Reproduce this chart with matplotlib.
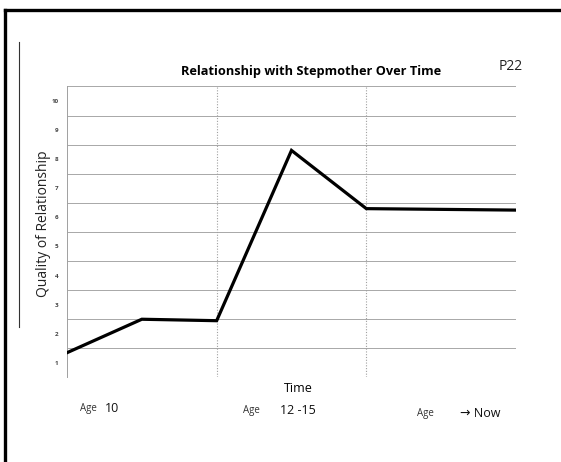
import matplotlib
matplotlib.use("Agg")
import matplotlib.pyplot as plt
from matplotlib.lines import Line2D

# values
time_pos = [0, 0.5, 1, 1.5, 2, 3]
quality = [1.35, 2.5, 2.45, 8.3, 6.3, 6.25]
y_ticks = [1, 2, 3, 4, 5, 6, 7, 8, 9, 10]
section_edges = [1, 2]
age_labels = ["Age", "Age", "Age"]
age_notes = ["10", "12 -15", "\u2192 Now"]

plt.rcParams['font.family'] = ['Open Sans', 'DejaVu Sans']

fig = plt.figure(figsize=(5.61, 4.62), dpi=100)
ax = fig.add_axes([0.1194, 0.183, 0.8004, 0.630])

# ruled background: one line between each score
for g in [t - 0.5 for t in y_ticks] + [10.5]:
    ax.axhline(g, color='#a8a8a8', lw=0.7, zorder=1)
for e in section_edges:
    ax.axvline(e, color='#a0a0a0', lw=0.8, ls=(0, (1, 1.5)), zorder=1)

ax.plot(time_pos, quality, color='black', lw=2.3, solid_joinstyle='miter', zorder=3)

ax.set_xlim(0, 3)
ax.set_ylim(0.5, 10.5)
ax.set_xticks([])
ax.set_yticks(y_ticks)
ax.set_yticklabels([str(t) for t in y_ticks], fontsize=4.5, color='#444444', fontweight='bold')
ax.tick_params(axis='y', length=0, pad=6)
for s in ['top', 'right', 'bottom']:
    ax.spines[s].set_visible(False)
ax.spines['left'].set_color('#a0a0a0')
ax.spines['left'].set_linewidth(0.7)

ax.set_ylabel('Quality of Relationship', fontsize=10, color='#222222')
ax.yaxis.set_label_coords(-0.036, 0.527)
fig.text(0.555, 0.845, 'Relationship with Stepmother Over Time', ha='center', va='center',
         fontsize=9.2, fontweight='bold')
fig.text(0.91, 0.855, 'P22', ha='center', va='center', fontsize=10, color='#222222')
fig.text(0.531, 0.160, 'Time', ha='center', va='center', fontsize=9)

age_x = [0.143, 0.433, 0.743]
note_x = [0.187, 0.499, 0.820]
age_y = [0.115, 0.111, 0.106]
for i in range(3):
    fig.text(age_x[i], age_y[i], age_labels[i], ha='left', va='center', fontsize=7, color='#333333')
    fig.text(note_x[i], age_y[i], age_notes[i], ha='left', va='center', fontsize=9, color='#111111')

# scan edges
fig.add_artist(Line2D([0.009, 1.0], [0.978, 0.978], color='black', lw=2.4))
fig.add_artist(Line2D([0.009, 0.009], [0.0, 0.978], color='black', lw=2.4))
fig.add_artist(Line2D([0.034, 0.034], [0.292, 0.909], color='#333333', lw=0.8))

fig.savefig('out.png', dpi=100)
